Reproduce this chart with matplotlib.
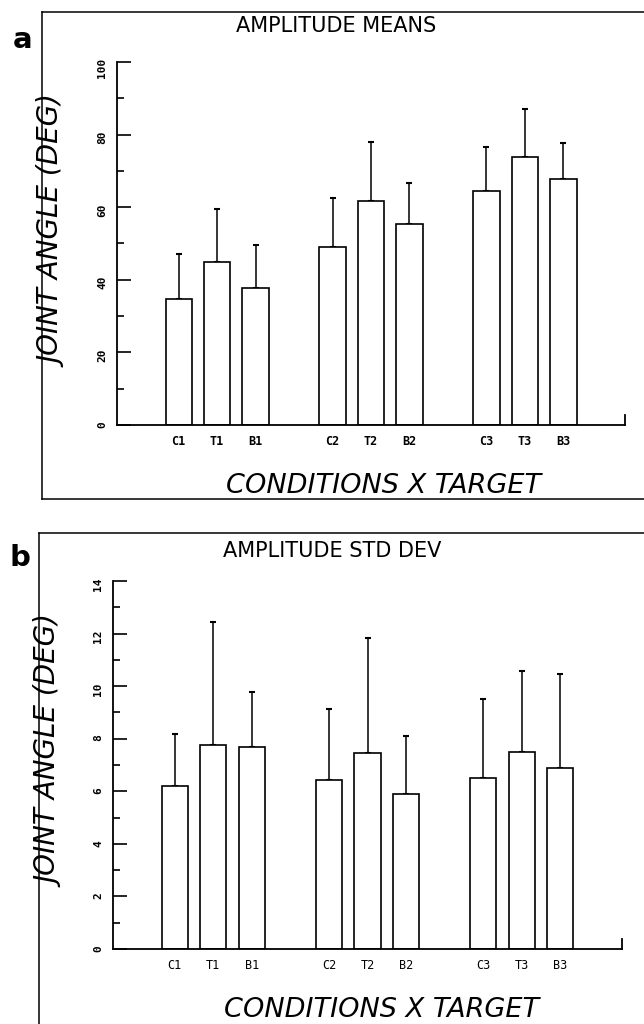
import matplotlib
matplotlib.use('Agg')
import matplotlib.pyplot as plt
from matplotlib.lines import Line2D
from matplotlib.ticker import MultipleLocator

categorias = ['C1', 'T1', 'B1', 'C2', 'T2', 'B2', 'C3', 'T3', 'B3']

# a) amplitude means (deg) and upper SD
medias = [34.6, 44.8, 37.7, 49.1, 61.8, 55.3, 64.4, 73.9, 67.8]
medias_topo = [47.1, 59.5, 49.7, 62.5, 78.0, 66.6, 76.7, 87.1, 77.8]

# b) amplitude std dev (deg) and upper SD
desvios = [6.20, 7.78, 7.68, 6.42, 7.44, 5.90, 6.50, 7.49, 6.88]
desvios_topo = [8.17, 12.44, 9.77, 9.15, 11.83, 8.12, 9.50, 10.59, 10.47]

posicoes = [1, 2, 3, 5, 6, 7, 9, 10, 11]

fig = plt.figure(figsize=(6.44, 10.24), dpi=100)

def painel(rect, valores, topos, ymax, passo, titulo, letra, tit_xy, yl_xy, xl_xy,
           letra_xy, caixa, negrito):
    ax = fig.add_axes(rect)
    erros = [t - v for v, t in zip(valores, topos)]
    ax.bar(posicoes, valores, width=0.68, color='white', edgecolor='black', linewidth=1.2,
           zorder=2)
    ax.errorbar(posicoes, valores, yerr=[[0] * len(erros), erros], fmt='none',
                ecolor='black', elinewidth=1.1, capsize=2.5, capthick=1.5, zorder=1)
    ax.set_xlim(-0.6, 12.6)
    ax.set_ylim(0, ymax)
    ax.spines['top'].set_visible(False)
    ax.spines['right'].set_visible(False)
    ax.spines['left'].set_linewidth(1.3)
    ax.spines['bottom'].set_linewidth(1.3)
    ax.yaxis.set_major_locator(MultipleLocator(passo))
    ax.yaxis.set_minor_locator(MultipleLocator(passo / 2))
    ax.tick_params(axis='y', which='major', direction='in', length=10, width=1.2,
                   labelrotation=90, labelsize=8, pad=7)
    ax.tick_params(axis='y', which='minor', direction='in', length=5, width=1.2)
    for t in ax.get_yticklabels():
        t.set_family('DejaVu Sans Mono')
        t.set_fontweight('bold')
    ax.set_xticks(posicoes)
    ax.set_xticklabels(categorias, fontsize=8.5, family='DejaVu Sans Mono',
                       fontweight='bold' if negrito else 'normal')
    ax.tick_params(axis='x', length=0, pad=7)
    # little tick at the right end of the x axis
    ax.plot([1, 1], [0, 0.027], transform=ax.transAxes, color='black', lw=1.3,
            clip_on=False)

    fig.text(tit_xy[0], tit_xy[1], titulo, ha='center', va='center', fontsize=15)
    fig.text(yl_xy[0], yl_xy[1], 'JOINT ANGLE (DEG)', rotation=90, ha='center',
             va='center', fontsize=20, style='italic')
    fig.text(xl_xy[0], xl_xy[1], 'CONDITIONS X TARGET', ha='center', va='center',
             fontsize=19.5, style='italic')
    fig.text(letra_xy[0], letra_xy[1], letra, ha='center', va='center', fontsize=21,
             fontweight='bold')

    # frame around the panel
    x0, y0, y1 = caixa
    fig.add_artist(Line2D([x0, 1.0], [y1, y1], color='black', lw=1.1))
    fig.add_artist(Line2D([x0, x0], [y0, y1], color='black', lw=1.1))
    if y0 > 0:
        fig.add_artist(Line2D([x0, 1.0], [y0, y0], color='black', lw=1.1))
    return ax

painel([0.1817, 0.5850, 0.7888, 0.3545], medias, medias_topo, 100, 20,
       'AMPLITUDE MEANS', 'a', (0.522, 0.9746), (0.0854, 0.7734), (0.596, 0.5254),
       (0.0357, 0.961), (42 / 644, 1 - 499 / 1024, 1 - 12 / 1024), True)

painel([0.1755, 0.0732, 0.7904, 0.3594], desvios, desvios_topo, 14, 2,
       'AMPLITUDE STD DEV', 'b', (0.516, 0.4619), (0.0807, 0.2656), (0.592, 0.0137),
       (0.031, 0.455), (39 / 644, 0.0, 1 - 533 / 1024), False)

plt.savefig('out.png', dpi=100)
